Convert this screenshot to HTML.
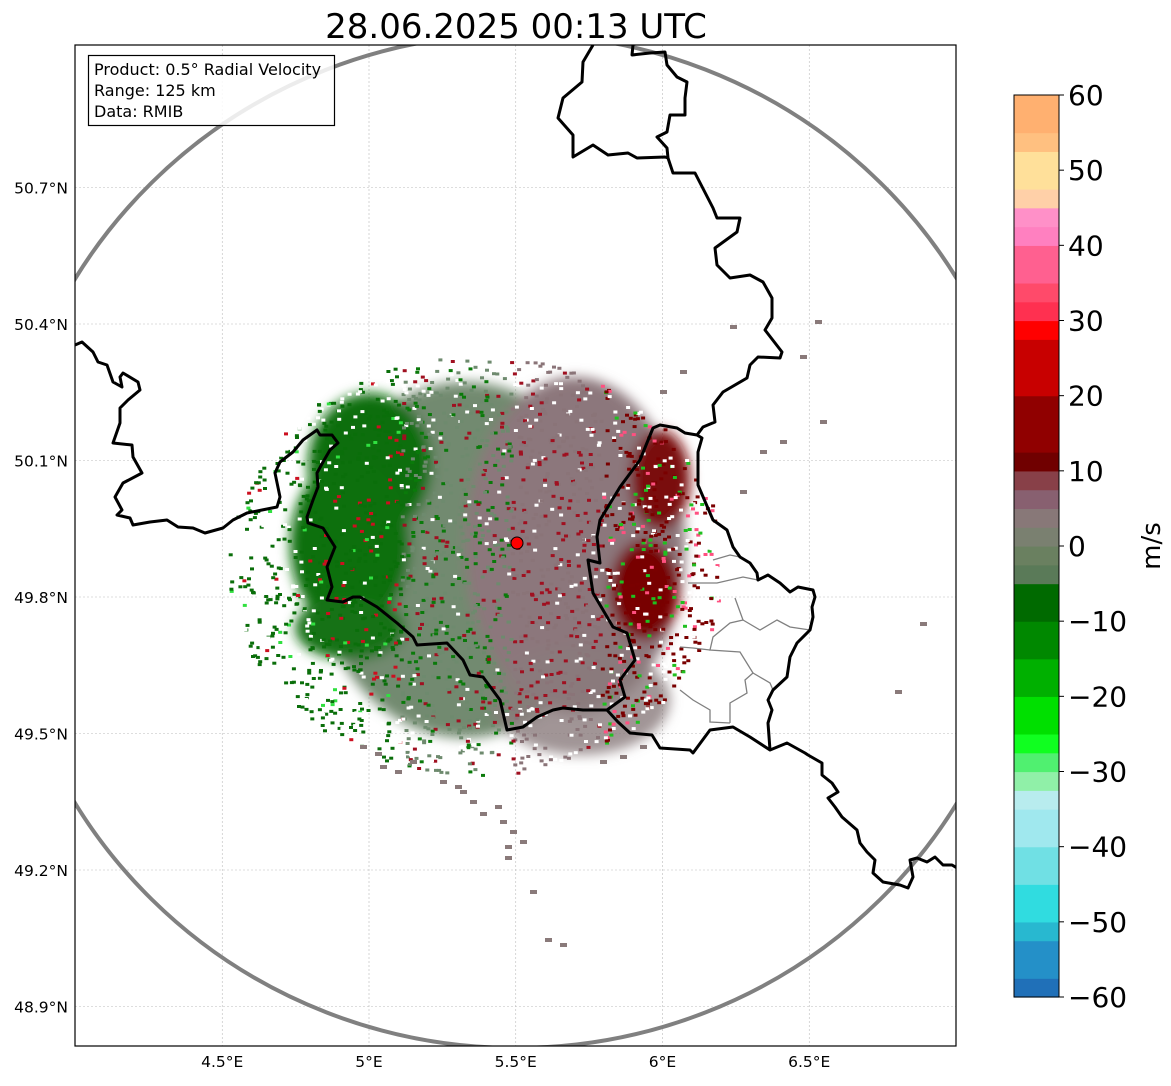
<!DOCTYPE html>
<html><head><meta charset="utf-8"><style>
body{margin:0;background:#fff;}
svg text{font-family:"DejaVu Sans","Liberation Sans",sans-serif;}
</style></head><body>
<svg id="fig" width="1171" height="1081" viewBox="0 0 1171 1081" xmlns="http://www.w3.org/2000/svg">
<defs>
<clipPath id="mapclip"><rect x="75" y="45" width="881" height="1001"/></clipPath>
<filter id="blur6" x="-20%" y="-20%" width="140%" height="140%"><feGaussianBlur stdDeviation="6"/></filter>
</defs>
<rect width="1171" height="1081" fill="#fff"/>
<text x="516" y="38" font-size="34" text-anchor="middle">28.06.2025 00:13 UTC</text>
<g id="map" clip-path="url(#mapclip)">
  <g id="grid"></g>
  <g>
    <g filter="url(#blur6)">
      <ellipse cx="465" cy="560" rx="150" ry="178" fill="#728a70"/>
      <ellipse cx="575" cy="545" rx="110" ry="168" fill="#8c777b"/>
      <ellipse cx="580" cy="700" rx="90" ry="55" fill="#8a7a7c" opacity="0.8"/>
      <ellipse cx="370" cy="465" rx="62" ry="72" fill="#0a6e0a"/>
      <ellipse cx="350" cy="545" rx="60" ry="85" fill="#0a700a"/>
      <ellipse cx="350" cy="628" rx="55" ry="32" fill="#187218"/>
      <ellipse cx="660" cy="480" rx="30" ry="50" fill="#7a1010"/>
      <ellipse cx="645" cy="590" rx="35" ry="50" fill="#780303"/>
    </g>
    <g id="speck"></g>
  </g>
  <ellipse cx="516" cy="541" rx="515" ry="507" fill="none" stroke="#808080" stroke-width="4"/>
  <g fill="none" stroke="#808080" stroke-width="1.3">
    <polyline points="688,583 717,583 743,577 758,580"/>
    <polyline points="713,560 730,555 740,557"/>
    <polyline points="735,598 743,620 730,623 713,637 710,650 740,652 753,673 745,680 747,693 730,703 730,723"/>
    <polyline points="743,620 760,630 777,620 790,627 810,630"/>
    <polyline points="753,673 770,683 773,690"/>
    <polyline points="680,647 693,648 710,650"/>
    <polyline points="680,690 693,700 710,710 710,722 730,723"/>
  </g>
  <g fill="none" stroke="#000" stroke-width="3" stroke-linejoin="round">
    <polyline points="75,345 82,342 93,352 98,362 107,365 113,382 122,387 120,377 123,373 138,382 140,390 128,400 120,408 120,423 113,443 132,445 133,457 142,473 123,483 115,497 122,510 117,515 130,518 133,525 150,522 167,520 178,527 193,528 205,533 223,528 233,520 247,513 262,510 277,507 280,497 275,473 280,462 293,452 303,440 317,430 320,435 332,435 338,443 330,450 323,462 317,473 318,487 313,500 307,517 308,523 323,528 335,547 327,567 332,587 327,600 343,602 353,597 360,597 377,607 397,623 413,637 417,645 447,643 463,660 470,675 483,677 500,700 507,730 523,727 537,717 553,710 563,708 583,710 607,710 618,722 630,733 652,735 660,748 690,750 693,753 710,730 733,727 750,737 770,750 787,743 805,753 808,755 822,763 822,775 832,783 838,792 828,798 835,807 842,817 857,830 860,843 867,852 875,860 873,873 883,882 900,885 908,888 913,877 910,860 917,858 927,862 935,857 943,865 952,865 957,868"/>
    <polyline points="607,710 625,697 620,680 635,660 627,633 613,627 593,593 588,560 600,563 597,537 600,520 620,487 640,460 653,428 660,425 677,428 685,433 697,435 702,438 698,452 698,485 713,520 727,530 733,547 740,557 750,563 757,573 758,580 768,575 780,583 790,592 798,587 813,590 815,597 812,607 813,617 810,630 797,643 790,657 787,677 773,690 768,700 772,710 768,723 770,750"/>
    <polyline points="697,435 703,427 715,422 713,405 723,392 747,378 750,365 758,357 780,358 782,352 765,330 772,318 772,298 763,282 750,275 730,278 717,265 715,248 737,232 740,218 717,218 713,208 695,173 673,173 668,158 667,148 657,137 667,132 670,115 685,115 685,98 687,82 677,77 667,65 665,52 650,53 632,55 633,45"/>
    <polyline points="668,158 665,157 637,158 628,153 608,155 593,145 573,157 573,135 558,118 563,98 582,82 583,62 593,45"/>
  </g>
  <circle cx="517" cy="543" r="6" fill="#f00" stroke="#000" stroke-width="1"/>
</g>
<rect x="75" y="45" width="881" height="1001" fill="none" stroke="#000" stroke-width="1.2"/>
<g>
  <rect x="88.5" y="55.5" width="246" height="70" fill="#fff" fill-opacity="0.85" stroke="#000" stroke-width="1.2"/>
  <text x="94" y="75" font-size="16">Product: 0.5° Radial Velocity</text>
  <text x="94" y="96" font-size="16">Range: 125 km</text>
  <text x="94" y="117" font-size="16">Data: RMIB</text>
</g>
<g id="axes"></g>
<g id="cbar"></g>
<text transform="translate(1160,546) rotate(-90)" font-size="26" text-anchor="middle">m/s</text>
<script>
const lonTicks = [4.5, 5.0, 5.5, 6.0, 6.5];
const lonLabels = ["4.5°E", "5°E", "5.5°E", "6°E", "6.5°E"];
const latTicks = [50.7, 50.4, 50.1, 49.8, 49.5, 49.2, 48.9];
const latLabels = ["50.7°N", "50.4°N", "50.1°N", "49.8°N", "49.5°N", "49.2°N", "48.9°N"];
const cbarTicks = [-60, -50, -40, -30, -20, -10, 0, 10, 20, 30, 40, 50, 60];
const cbarStopValues = [-60, -57, -53, -50, -45, -40, -35, -33, -30, -27, -25, -20, -15, -10, -6, -5, -2, 0, 2, 5, 8, 10, 12, 20, 28, 29, 32, 36, 40, 42, 44, 46, 48, 52, 55, 60];
const cbarStopColors = ["#2070b8", "#2490c8", "#28b8d0", "#30dce0", "#70e0e4", "#a0e8ee", "#b8ecee", "#90f0a8", "#50f070", "#10ff20", "#00e000", "#00b000", "#008800", "#006a00", "#005a00", "#5a7a58", "#6a8060", "#7a8070", "#887878", "#886070", "#884048", "#700000", "#900000", "#c80000", "#ff0000", "#ff3050", "#ff4a6a", "#ff6090", "#ff80c0", "#ff90c8", "#ffb0b8", "#ffd0a8", "#ffe09a", "#ffc080", "#ffb070", "#ff9a55"];
const NS = "http://www.w3.org/2000/svg";
function lonX(lon){ return 369 + (lon - 5.0) * 293.5; }
function latY(lat){ return 597 - (lat - 49.8) * 455; }
function vY(v){ return 997 - (v + 60) / 120 * 902; }
function mk(tag, attrs, parent){ const e = document.createElementNS(NS, tag); for (const k in attrs) e.setAttribute(k, attrs[k]); parent.appendChild(e); return e; }
const grid = document.getElementById('grid');
const axes = document.getElementById('axes');
lonTicks.forEach((lon, i) => {
  const x = lonX(lon);
  const l = mk('line', {x1:x, x2:x, y1:45, y2:1046, stroke:'#bbb', 'stroke-width':0.6, 'stroke-dasharray':'2,2'}, grid);
  
  
  const t = mk('text', {x:x, y:1067, 'font-size':15.5, 'text-anchor':'middle'}, axes);
  t.textContent = lonLabels[i];
  
  
});
latTicks.forEach((lat, i) => {
  const y = latY(lat);
  const l = mk('line', {x1:75, x2:956, y1:y, y2:y, stroke:'#bbb', 'stroke-width':0.6, 'stroke-dasharray':'2,2'}, grid);
  
  
  const t = mk('text', {x:68, y:y + 6, 'font-size':15.5, 'text-anchor':'end'}, axes);
  t.textContent = latLabels[i];
  
  
});
const cbar = document.getElementById('cbar');
function colorAt(v){
  let c = cbarStopColors[0];
  for (let i = 0; i < cbarStopValues.length; i++) if (v >= cbarStopValues[i]) c = cbarStopColors[i];
  return c;
}
for (let v = -60; v < 60; v += 2.5) {
  const y1 = vY(v + 2.5), y2 = vY(v);
  const r = mk('rect', {x:1014, y:y1, width:45, height:y2 - y1 + 0.6, fill:colorAt(v + 1.25)}, cbar);
  
  
}
mk('rect', {x:1014, y:vY(60), width:45, height:vY(-60) - vY(60), fill:'none', stroke:'#000', 'stroke-width':1}, cbar);
cbarTicks.forEach(v => {
  const y = vY(v);
  mk('line', {x1:1059, x2:1064, y1:y, y2:y, stroke:'#000', 'stroke-width':1}, cbar);
  const t = mk('text', {x:1068, y:y + 10, 'font-size':28}, cbar);
  t.textContent = (v < 0 ? '\u2212' + Math.abs(v) : String(v));
  
  
});
// speckle texture (deterministic)
const speck = document.getElementById('speck');
let s = 12345;
function rnd(){ s = (s * 1103515245 + 12345) % 2147483648; return s / 2147483648; }
for (let i = 0; i < 2400; i++) {
  const a = rnd() * Math.PI * 2, d = Math.sqrt(rnd()) * 1.08;
  const x = 475 + Math.cos(a) * d * 230, y = 565 + Math.sin(a) * d * 195;
  const k = rnd();
  const edge = d > 0.75;
  let col;
  if (x < 400) col = k < 0.6 ? '#0a6e0a' : (k < (edge ? 0.9 : 0.75) ? '#fff' : (k < 0.95 ? '#cc1020' : '#30e040'));
  else if (x < 510) col = k < 0.5 ? '#6e8a6e' : (k < (edge ? 0.8 : 0.6) ? '#fff' : (k < 0.9 ? '#0a7a0a' : '#a01020'));
  else if (x < 600) col = k < 0.5 ? '#8a7478' : (k < (edge ? 0.8 : 0.6) ? '#fff' : '#a01020');
  else col = k < 0.45 ? '#7a0000' : (k < 0.72 ? '#fff' : (k < 0.85 ? '#ff5080' : '#20c020'));
  mk('rect', {x:x.toFixed(1), y:y.toFixed(1), width:4, height:3, fill:col}, speck);
}
const trail = [[380,765],[395,770],[410,760],[440,780],[460,790],[455,785],[470,800],[480,812],[495,805],[500,820],[510,830],[505,845],[520,840],[505,856],[530,890],[545,938],[560,943],[360,745],[375,752],[600,760],[620,755],[640,745],[815,320],[730,325],[800,355],[820,420],[895,690],[920,622],[680,370],[660,390],[760,450],[740,490],[780,440]];
trail.forEach(p => {
  mk('rect', {x:p[0], y:p[1], width:7, height:4, fill:'#8a7a7a'}, speck);
});
</script>
</svg>
</body></html>
